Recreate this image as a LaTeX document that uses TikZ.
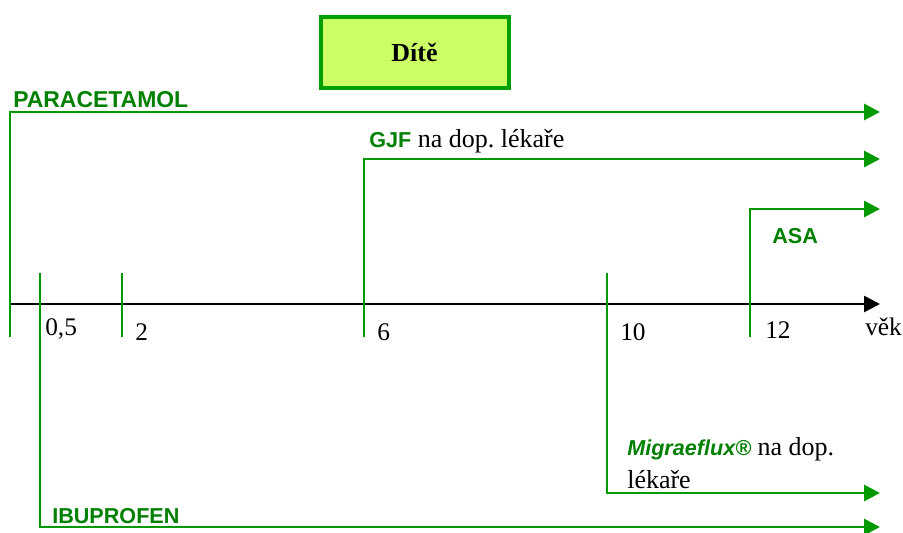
\documentclass[tikz,border=0pt]{standalone}
\usepackage{fontspec}
\setmainfont{Liberation Serif}
\setsansfont{Liberation Sans}
\usetikzlibrary{arrows.meta}
\frenchspacing

\definecolor{linegreen}{RGB}{0,153,0}
\definecolor{druggreen}{RGB}{0,128,0}
\definecolor{boxfill}{RGB}{204,255,102}
\definecolor{boxline}{RGB}{0,160,0}

\newcommand{\serifpart}[1]{{\rmfamily\mdseries\upshape\fontsize{19.5}{24.75}\selectfont\color{black}#1}}

\tikzset{
  ageaxis/.style={draw=black, line width=2pt, -{Triangle[length=12pt,width=12pt]}},
  agetick/.style={draw=linegreen, line width=2.2pt},
  druguse/.style={agetick, -{Triangle[length=12pt,width=12pt]}},
  drug/.style={font=\fontsize{16.2}{24.75}\selectfont\sffamily\bfseries, text=druggreen, inner sep=0pt, anchor=base west},
  agenum/.style={font=\fontsize{19}{22}\selectfont, inner sep=0pt, anchor=base west},
  agebox/.style={draw=boxline, line width=3pt, fill=boxfill, minimum width=141pt, minimum height=53pt,
    font=\fontsize{19.5}{22}\selectfont\bfseries},
}

\begin{document}
\begin{tikzpicture}[x=0.75pt, y=-0.75pt]
    \useasboundingbox (0,0) rectangle (903,532);

    \node[agebox] (child) at (414.5,52.5) {Dítě};

    % age axis
    \coordinate (o) at (10,304);
    \coordinate (oEnd) at (880,304);
    \draw[ageaxis] (o) -- (oEnd);

    % short ticks
    \coordinate (t2a) at (122,273);
    \coordinate (t2b) at (122,337);
    \draw[agetick] (t2a) -- (t2b);

    % ranges of the drugs
    \coordinate (para0) at (10,337);
    \coordinate (paraE) at (880,112);
    \coordinate (gjf0) at (364,337);
    \coordinate (gjfE) at (880,159);
    \coordinate (asa0) at (750,337);
    \coordinate (asaE) at (880,209);
    \coordinate (migr0) at (607,273);
    \coordinate (migrE) at (880,493);
    \coordinate (ibu0) at (40,273);
    \coordinate (ibuE) at (880,527);

    \draw[druguse] (para0) |- (paraE);
    \draw[druguse] (gjf0) |- (gjfE);
    \draw[druguse] (asa0) |- (asaE);
    \draw[druguse] (migr0) |- (migrE);
    \draw[druguse] (ibu0) |- (ibuE);

    \node[drug, font=\fontsize{17.2}{24.75}\selectfont\sffamily\bfseries] (para) at (13,107) {PARACETAMOL};
    \node[drug] (gjf) at (369,147) {GJF\serifpart{\ na dop. lékaře}};
    \node[drug] (asa) at (772,243) {ASA};
    \node[drug, align=left] (migr) at (627,488) {\itshape Migraeflux®\serifpart{\ na dop.}\\\serifpart{lékaře}};
    \node[drug] (ibu) at (52,523) {IBUPROFEN};

    % age labels
    \foreach \name/\x/\y/\txt in {l05/45/335/{0,5}, l2/135/340/2, l6/377/340/6, l10/620/340/10, l12/765/338/12, lvek/865/335/věk} {
      \node[agenum] (\name) at (\x,\y) {\txt};
    }
\end{tikzpicture}
\end{document}
